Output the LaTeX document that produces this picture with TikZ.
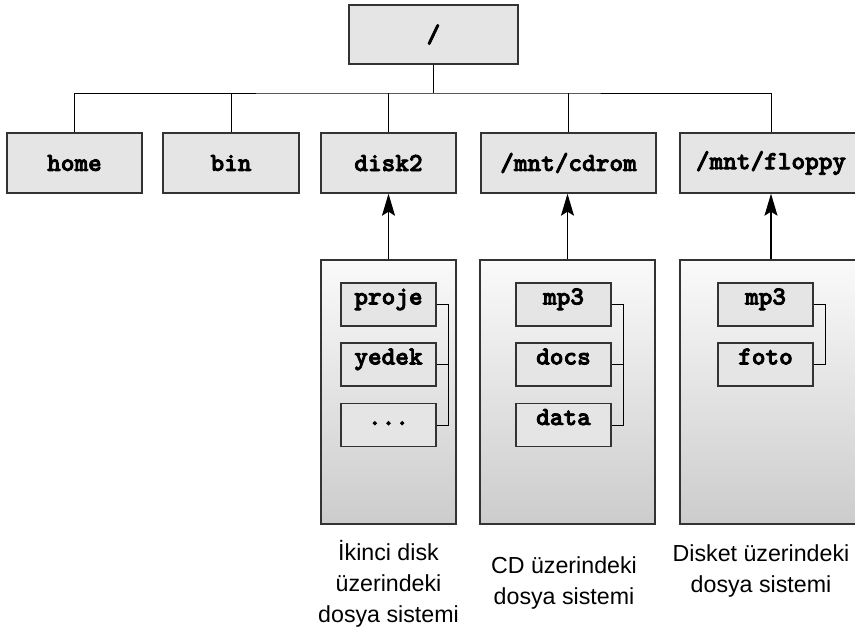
\documentclass[tikz,border=0pt]{standalone}
\usepackage{fontspec}
\setsansfont{Liberation Sans}
\newfontfamily\dirfont[FakeBold=3]{lmmonolt10-bold.otf}
\usetikzlibrary{arrows.meta}
\begin{document}
\begin{tikzpicture}[x=1pt, y=-1pt,
		dirbox/.style={draw=black!80, line width=1.4pt, fill=gray!20!white, inner sep=0pt, font=\fontsize{26}{26}\selectfont\dirfont},
		fsbox/.style={draw=black!80, line width=1.4pt, top color=gray!4!white, bottom color=gray!40!white, inner sep=0pt},
		subbox/.style={dirbox, minimum width=95pt, minimum height=43pt, text depth=14pt, text height=14pt},
		fslabel/.style={align=center, inner sep=0pt, anchor=north, font=\fontsize{23.2}{31}\selectfont\sffamily},
		conn/.style={black, line width=0.9pt},
		mount/.style={black, line width=1.1pt, -{Stealth[length=22pt, width=13pt, inset=4pt]}}]
			\useasboundingbox (0,0) rectangle (855,634);
			
			\node[dirbox, minimum width=169pt, minimum height=59pt] (root) at (433.5, 34.5) {/};
			\node[dirbox, minimum width=135pt, minimum height=60pt] (home) at (74.5, 163) {home};
			\node[dirbox, minimum width=136pt, minimum height=60pt] (bin) at (231, 163) {bin};
			\node[dirbox, minimum width=135pt, minimum height=60pt] (disk2) at (388.5, 163) {disk2};
			\node[dirbox, minimum width=175pt, minimum height=60pt] (cdrom) at (568.5, 163) {/mnt/cdrom};
			\node[dirbox, minimum width=182pt, minimum height=60pt] (floppy) at (771, 163) {/mnt/floppy};
			
			\coordinate (bus) at (433.5, 93);
			\draw [conn] (root.south) -- (bus);
			\draw [conn] (home.north) |- (bus) -| (floppy.north);
			\draw [conn] (bin.north) -- (bin.north |- bus);
			\draw [conn] (disk2.north) -- (disk2.north |- bus);
			\draw [conn] (cdrom.north) -- (cdrom.north |- bus);
			
			% mounted file systems
			\node[fsbox, minimum width=135pt, minimum height=264pt] (diskfs) at (388.5, 392) {};
			\node[fsbox, minimum width=175pt, minimum height=264pt] (cdfs) at (567.5, 392) {};
			\node[fsbox, minimum width=182pt, minimum height=264pt] (floppyfs) at (771, 392) {};
			\draw [mount] (diskfs.north) -- (disk2.south);
			\draw [mount] (cdfs.north) -- (cdfs.north |- cdrom.south);
			\draw [mount] (floppyfs.north) -- (floppy.south);
			
			\node[subbox] (proje) at (388.5, 304.5) {proje};
			\node[subbox] (yedek) at (388.5, 364.5) {yedek};
			\node[subbox] (etc) at (388.5, 425) {...};
			\draw [conn] (proje.east) -- ++(12,0) |- (etc.east);
			\draw [conn] (yedek.east) -- ++(12,0);
			
			\node[subbox] (cdmp) at (563.5, 304.5) {mp3};
			\node[subbox] (docs) at (563.5, 364.5) {docs};
			\node[subbox] (data) at (563.5, 425) {data};
			\draw [conn] (cdmp.east) -- ++(12,0) |- (data.east);
			\draw [conn] (docs.east) -- ++(12,0);
			
			\node[subbox] (flmp) at (765.5, 304.5) {mp3};
			\node[subbox] (foto) at (765.5, 364.5) {foto};
			\draw [conn] (flmp.east) -- ++(12,0) |- (foto.east);
			
			\node[fslabel] (disklabel) at (388.5, 540) {İkinci disk\\üzerindeki\\dosya sistemi};
			\node[fslabel] (cdlabel) at (564, 556) {CD üzerindeki\\dosya sistemi};
			\node[fslabel] (floppylabel) at (761, 544) {Disket üzerindeki\\dosya sistemi};
			
		\end{tikzpicture}
\end{document}
